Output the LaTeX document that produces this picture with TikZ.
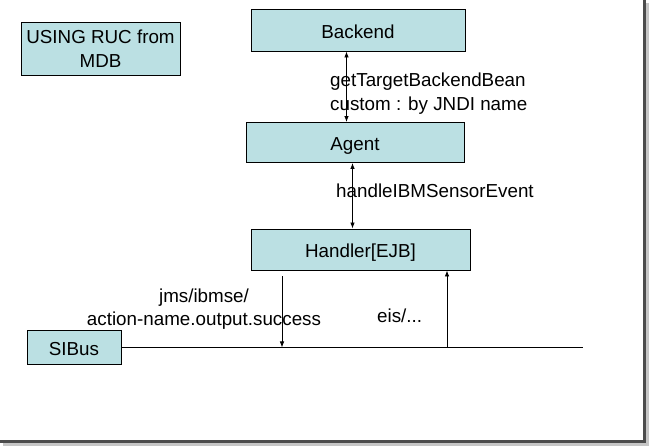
\documentclass[tikz,border=0pt]{standalone}
\usepackage{fontspec}
\setmainfont{Liberation Sans}
\usetikzlibrary{arrows.meta}
\definecolor{boxfill}{RGB}{187,224,227}
\tikzset{
  box/.style={draw=black, fill=boxfill, line width=0.9pt, inner sep=0pt,
    align=center, font=\fontsize{18.8}{24}\selectfont},
  onebox/.style={box, text height=17, text depth=0},
  lbl/.style={inner sep=0pt, font=\fontsize{18.8}{23.5}\selectfont},
  link/.style={line width=0.8pt, -{Latex[length=6pt,width=4.5pt]}},
  bilink/.style={line width=0.8pt, {Latex[length=6pt,width=4.5pt]}-{Latex[length=6pt,width=4.5pt]}}
}
\begin{document}
\begin{tikzpicture}[x=1pt,y=-1pt]
  \useasboundingbox (0,0) rectangle (649,446);
  % frame shadow
  \fill[gray!45] (645,3) rectangle (649,446);
  \fill[gray!45] (3,442) rectangle (649,446);
  \fill[black!70] (643,0) rectangle (646,443);
  \fill[black!70] (0,440) rectangle (646,443);

  \node[box, minimum width=159, minimum height=53] (title) at (100.5,48.5) {USING RUC from\\MDB};
  \node[onebox, minimum width=214, minimum height=42] (backend) at (358,30) {Backend};
  \node[onebox, minimum width=218, minimum height=40] (agent) at (355,142.5) {Agent};
  \node[onebox, minimum width=219, minimum height=41] (handler) at (360.5,249.5) {Handler[EJB]};
  \node[onebox, minimum width=94, minimum height=34] (sibus) at (74,347.5) {SIBus};

  \coordinate (busend) at (583,347.5);
  \coordinate (jmsin) at (282,347.5);
  \coordinate (eisout) at (447,347.5);

  \begin{scope}
    \draw[bilink] ([xshift=-11.5]backend.south) -- ([xshift=-11.5]backend.south |- agent.north);
    \draw[bilink] ([xshift=-2.5]agent.south) -- ([xshift=-2.5]agent.south |- handler.north);
    \draw[line width=0.8pt] (sibus.east) -- (busend);
    \draw[link, shorten <=6pt] (jmsin |- handler.south) -- (jmsin);
    \draw[link] (eisout) -- (eisout |- handler.south);
  \end{scope}

  \node[lbl, anchor=west, align=left] (getbean) at (330,93.5) {getTargetBackendBean\\custom : by JNDI name};
  \node[lbl, anchor=west] (handleevt) at (336,191) {handleIBMSensorEvent};
  \node[lbl, align=center] (jmsq) at (204,309) {jms/ibmse/\\action-name.output.success};
  \node[lbl, anchor=west] (eisq) at (377,316) {eis/...};
\end{tikzpicture}
\end{document}
